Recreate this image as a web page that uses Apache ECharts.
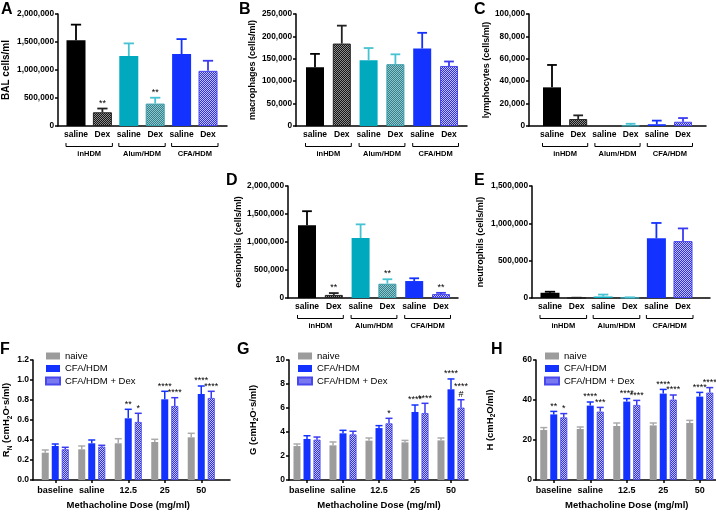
<!DOCTYPE html>
<html><head><meta charset="utf-8">
<script src="https://cdn.jsdelivr.net/npm/echarts@6/dist/echarts.min.js"></script>
<style>html,body{margin:0;padding:0;background:#fff}#c{width:716px;height:513px}</style>
</head><body><div id="c"></div>
<script>
// ---------- DATA ----------
const groupCats = ['saline', 'Dex', 'saline', 'Dex', 'saline', 'Dex'];
const groupNames = ['inHDM', 'Alum/HDM', 'CFA/HDM'];

const A_values = [1530000, 245000, 1250000, 400000, 1285000, 985000];
const A_errTop = [1810000, 312000, 1475000, 505000, 1552000, 1165000];
const A_stars  = ['', '**', '', '**', '', ''];

const B_values = [131000, 184000, 147000, 138000, 173000, 134000];
const B_errTop = [161000, 224000, 174000, 160000, 208000, 144000];
const B_stars  = ['', '', '', '', '', ''];

const C_values = [34500, 6200, 0, 400, 1600, 3800];
const C_errTop = [54500, 9500, 0, 2000, 4800, 7100];
const C_stars  = ['', '', '', '', '', ''];

const D_values = [1300000, 55000, 1070000, 255000, 303000, 70000];
const D_errTop = [1550000, 88000, 1315000, 335000, 352000, 92000];
const D_stars  = ['', '**', '', '**', '', '**'];

const E_values = [70000, 2000, 20000, 4000, 800000, 762000];
const E_errTop = [84000, 4000, 46000, 9000, 1005000, 932000];
const E_stars  = ['', '', '', '', '', ''];

const doseCats = ['baseline', 'saline', '12.5', '25', '50'];
const seriesNames = ['naive', 'CFA/HDM', 'CFA/HDM + Dex'];

const F_naive = [0.273, 0.307, 0.367, 0.38, 0.427];
const F_naiveErr = [0.30, 0.34, 0.413, 0.407, 0.467];
const F_cfa = [0.34, 0.367, 0.617, 0.807, 0.86];
const F_cfaErr = [0.36, 0.40, 0.707, 0.887, 0.94];
const F_dex = [0.307, 0.333, 0.58, 0.74, 0.82];
const F_dexErr = [0.327, 0.347, 0.667, 0.823, 0.887];
const F_cfaStars = ['', '', '**', '****', '****'];
const F_dexStars = ['', '', '*', '****', '****'];

const G_naive = [2.83, 2.89, 3.28, 3.14, 3.3];
const G_naiveErr = [3.0, 3.17, 3.5, 3.3, 3.5];
const G_cfa = [3.42, 3.89, 4.33, 5.67, 7.56];
const G_cfaErr = [3.69, 4.14, 4.53, 6.25, 8.42];
const G_dex = [3.36, 3.8, 4.72, 5.58, 6.03];
const G_dexErr = [3.58, 4.06, 5.14, 6.39, 6.69];
const G_cfaStars = ['', '', '', '****', '****'];
const G_dexStars = ['', '', '*', '****', '****\n#'];

const H_naive = [25, 25.5, 27, 27.3, 28.5];
const H_naiveErr = [26.2, 26.5, 28.5, 28.5, 29.8];
const H_cfa = [32.8, 37.2, 39.2, 43.2, 41.7];
const H_cfaErr = [34.3, 39, 40.7, 45.3, 43.8];
const H_dex = [31.3, 34.2, 37.5, 40.2, 43.7];
const H_dexErr = [33.2, 36.3, 39.8, 42.5, 46.2];
const H_cfaStars = ['**', '****', '****', '****', '****'];
const H_dexStars = ['*', '***', '****', '****', '****'];

// ---------- STYLE ----------
const FF = '"Liberation Sans", Arial, Helvetica, sans-serif';
function checker(c1, c2) {
  const cv = document.createElement('canvas'); cv.width = 2; cv.height = 2;
  const g = cv.getContext('2d');
  g.fillStyle = c1; g.fillRect(0, 0, 2, 2);
  g.fillStyle = c2; g.fillRect(0, 0, 1, 1); g.fillRect(1, 1, 1, 1);
  return { image: cv, repeat: 'repeat' };
}
const BLUE = '#1432ff', TEAL = '#00a9bd', TEAL_L = '#47c2d2', GRAY = '#9c9c9c';
const bluePat = checker('#2f2fe6', '#c2c2fa');
const barFill = ['#000', checker('#161616', '#8c8c8c'), TEAL, checker('#2a8792', '#98c2c7'), BLUE, bluePat];
const barBorder = ['#000', '#222', TEAL, '#3aa0ad', BLUE, '#4848ee'];
const errColor = ['#000', '#222', TEAL_L, TEAL_L, BLUE, '#3a3af0'];

const barPanels = [
  {letter: 'A', vals: A_values, errs: A_errTop, stars: A_stars, max: 2000000, interval: 500000, yName: 'BAL cells/ml', nameSize: 10, nameGap: 47, outer: [58, 14, 169, 112], inner: [62.8, 158.4], barW: 19, lp: [1, 2]},
  {letter: 'B', vals: B_values, errs: B_errTop, stars: B_stars, max: 250000, interval: 50000, yName: 'macrophages (cells/ml)', nameSize: 9, nameGap: 39, outer: [296, 14, 171, 112], inner: [301.6, 160.8], barW: 18, lp: [239, 2]},
  {letter: 'C', vals: C_values, errs: C_errTop, stars: C_stars, max: 100000, interval: 20000, yName: 'lymphocytes (cells/ml)', nameSize: 9, nameGap: 36, outer: [529, 14, 177, 112], inner: [538.9, 157.2], barW: 18, lp: [474, 2]},
  {letter: 'D', vals: D_values, errs: D_errTop, stars: D_stars, max: 2000000, interval: 500000, yName: 'eosinophils (cells/ml)', nameSize: 9, nameGap: 45, outer: [288, 186, 170, 112], inner: [293.6, 160.8], barW: 18, lp: [226, 173]},
  {letter: 'E', vals: E_values, errs: E_errTop, stars: E_stars, max: 1500000, interval: 500000, yName: 'neutrophils (cells/ml)', nameSize: 9, nameGap: 47, outer: [532, 186, 178, 112], inner: [536.7, 159.6], barW: 19, lp: [474, 173]}
];
const dosePanels = [
  {letter: 'F', sets: [[F_naive, F_naiveErr, []], [F_cfa, F_cfaErr, F_cfaStars], [F_dex, F_dexErr, F_dexStars]], max: 1.2, interval: 0.2, dec: 1,
   yName: '{a|R}{s|N}{a| (cmH}{s|2}{a|O·s/ml)}', nameGap: 20, outer: [33, 360, 197, 120], inner: [37, 182.5], lp: [0, 342], legend: [45, 351]},
  {letter: 'G', sets: [[G_naive, G_naiveErr, []], [G_cfa, G_cfaErr, G_cfaStars], [G_dex, G_dexErr, G_dexStars]], max: 10, interval: 2, dec: 0,
   yName: '{a|G (cmH}{s|2}{a|O·s/ml)}', nameGap: 31, outer: [289, 360, 179, 120], inner: [289, 180], lp: [237, 342], legend: [297, 351]},
  {letter: 'H', sets: [[H_naive, H_naiveErr, []], [H_cfa, H_cfaErr, H_cfaStars], [H_dex, H_dexErr, H_dexStars]], max: 60, interval: 20, dec: 0,
   yName: '{a|H (cmH}{s|2}{a|O/ml)}', nameGap: 41, outer: [536, 360, 180, 120], inner: [535.5, 182.5], lp: [491, 342], legend: [544, 351]}
];
const doseFill = [GRAY, BLUE, bluePat];
const doseBorder = [GRAY, BLUE, '#4848ee'];
const doseErr = ['#aaaaaa', BLUE, '#3a3af0'];
const doseOffset = [-10, 0, 10];

// ---------- BUILD ----------
const grid = [], xAxis = [], yAxis = [], series = [], legend = [], graphic = [];
const axisLine = {show: true, lineStyle: {color: '#000', width: 1.5}};

function errSeries(xi, vals, errs, stars, colors, offset, capHalf, lw) {
  return {
    type: 'custom', xAxisIndex: xi, yAxisIndex: xi, clip: false, z: 4, silent: true,
    data: vals.map((v, j) => [j, v, errs[j]]),
    renderItem: function (params, api) {
      const i = params.dataIndex;
      const v = api.value(1), e = api.value(2);
      const p0 = api.coord([api.value(0), v]);
      const p1 = api.coord([api.value(0), e]);
      const x = p0[0] + offset;
      const col = Array.isArray(colors) ? colors[i] : colors;
      const ch = [];
      if (e > v) {
        ch.push({type: 'line', shape: {x1: x, y1: p0[1], x2: x, y2: p1[1]}, style: {stroke: col, lineWidth: lw}});
        ch.push({type: 'line', shape: {x1: x - capHalf, y1: p1[1], x2: x + capHalf, y2: p1[1]}, style: {stroke: col, lineWidth: lw}});
      }
      const s = stars[i];
      if (s) {
        ch.push({type: 'text', style: {text: s, x: x, y: p1[1] - 1.5, align: 'center', verticalAlign: 'bottom',
          font: '9px ' + FF, fill: '#000', lineHeight: 7.5}});
      }
      return {type: 'group', children: ch};
    }
  };
}

barPanels.forEach((p, k) => {
  const go = grid.length, gi = go + 1;
  grid.push({left: p.outer[0], top: p.outer[1], width: p.outer[2], height: p.outer[3], outerBoundsMode: 'none'});
  grid.push({left: p.inner[0], top: p.outer[1], width: p.inner[1], height: p.outer[3], outerBoundsMode: 'none'});
  xAxis.push({gridIndex: go, type: 'value', min: 0, max: 1, axisLine: axisLine, axisTick: {show: false}, axisLabel: {show: false}, splitLine: {show: false}});
  xAxis.push({gridIndex: gi, type: 'category', data: groupCats, axisLine: {show: false}, axisTick: {show: false},
    axisLabel: {interval: 0, margin: 4, fontSize: 8.5, fontWeight: 'bold', color: '#000', fontFamily: FF}});
  yAxis.push({gridIndex: go, type: 'value', min: 0, max: p.max, interval: p.interval, axisLine: axisLine,
    axisTick: {show: true, length: 3, lineStyle: {color: '#000', width: 1.5}}, splitLine: {show: false},
    axisLabel: {margin: 4, fontSize: 8.3, fontWeight: 'bold', color: '#000', fontFamily: FF},
    name: p.yName, nameLocation: 'middle', nameRotate: 90, nameGap: p.nameGap,
    nameTextStyle: {fontSize: p.nameSize, fontWeight: 'bold', color: '#000', fontFamily: FF}});
  yAxis.push({gridIndex: gi, type: 'value', min: 0, max: p.max, show: false});
  series.push({type: 'bar', xAxisIndex: gi, yAxisIndex: gi, barWidth: p.barW, z: 2, silent: true,
    data: p.vals.map((v, j) => ({value: v, itemStyle: {color: barFill[j], borderColor: barBorder[j], borderWidth: j % 2 ? 1 : 0}}))});
  series.push(errSeries(gi, p.vals, p.errs, p.stars, errColor, 0, p.barW * 0.27, 1.8));
  // group brackets
  const bw = p.barW;
  series.push({type: 'custom', xAxisIndex: gi, yAxisIndex: gi, clip: false, silent: true,
    data: [[0, 1], [2, 3], [4, 5]],
    renderItem: function (params, api) {
      const a = api.coord([api.value(0), 0]), b = api.coord([api.value(1), 0]);
      const x1 = a[0] - bw / 2 - 0.5, x2 = b[0] + bw / 2 + 0.5, y = a[1] + 20.5;
      return {type: 'group', children: [
        {type: 'polyline', shape: {points: [[x1, y - 3.5], [x1, y], [x2, y], [x2, y - 3.5]]}, style: {stroke: '#000', lineWidth: 1, fill: null}},
        {type: 'text', style: {text: groupNames[params.dataIndex], x: (x1 + x2) / 2, y: y + 7, align: 'center', verticalAlign: 'middle',
          font: 'bold 7.5px ' + FF, fill: '#000'}}
      ]};
    }
  });
  graphic.push({type: 'text', left: p.lp[0], top: p.lp[1], style: {text: p.letter, font: 'bold 16px ' + FF, fill: '#000'}});
});

dosePanels.forEach((p) => {
  const go = grid.length, gi = go + 1;
  grid.push({left: p.outer[0], top: p.outer[1], width: p.outer[2], height: p.outer[3], outerBoundsMode: 'none'});
  grid.push({left: p.inner[0], top: p.outer[1], width: p.inner[1], height: p.outer[3], outerBoundsMode: 'none'});
  xAxis.push({gridIndex: go, type: 'value', min: 0, max: 1, axisLine: axisLine, axisTick: {show: false}, axisLabel: {show: false}, splitLine: {show: false}});
  xAxis.push({gridIndex: gi, type: 'category', data: doseCats, axisLine: {show: false},
    axisTick: {show: true, alignWithLabel: true, length: 3, lineStyle: {color: '#000', width: 1.5}},
    axisLabel: {interval: 0, margin: 6, fontSize: 9, fontWeight: 'bold', color: '#000', fontFamily: FF},
    name: 'Methacholine Dose (mg/ml)', nameLocation: 'middle', nameGap: 20,
    nameTextStyle: {fontSize: 9.5, fontWeight: 'bold', color: '#000', fontFamily: FF}});
  yAxis.push({gridIndex: go, type: 'value', min: 0, max: p.max, interval: p.interval, axisLine: axisLine,
    axisTick: {show: true, length: 3, lineStyle: {color: '#000', width: 1.5}}, splitLine: {show: false},
    axisLabel: {margin: 4, fontSize: 8.5, fontWeight: 'bold', color: '#000', fontFamily: FF, formatter: (v) => v.toFixed(p.dec)},
    name: p.yName, nameLocation: 'middle', nameRotate: 90, nameGap: p.nameGap,
    nameTextStyle: {fontFamily: FF, color: '#000', rich: {
      a: {fontSize: 9.5, fontWeight: 'bold', fontFamily: FF, color: '#000', lineHeight: 13, verticalAlign: 'bottom'},
      s: {fontSize: 6.5, fontWeight: 'bold', fontFamily: FF, color: '#000', lineHeight: 13, verticalAlign: 'bottom', padding: [0, 0, -2, 0]}}}});
  yAxis.push({gridIndex: gi, type: 'value', min: 0, max: p.max, show: false});
  p.sets.forEach((s, k) => {
    series.push({type: 'bar', name: seriesNames[k], xAxisIndex: gi, yAxisIndex: gi, barWidth: 7, barGap: '43%', z: 2, silent: true,
      itemStyle: {color: doseFill[k], borderColor: doseBorder[k], borderWidth: k === 2 ? 0.8 : 0},
      data: s[0]});
  });
  p.sets.forEach((s, k) => {
    series.push(errSeries(gi, s[0], s[1], s[2], doseErr[k], doseOffset[k], 3.5, 1.5));
  });
  legend.push({data: seriesNames, orient: 'vertical', left: p.legend[0], top: p.legend[1], itemWidth: 14, itemHeight: 7, itemGap: 2.5,
    icon: 'rect', selectedMode: false, padding: 0, textStyle: {fontSize: 9.5, color: '#000', fontFamily: FF}});
  graphic.push({type: 'text', left: p.lp[0], top: p.lp[1], style: {text: p.letter, font: 'bold 16px ' + FF, fill: '#000'}});
});

const chart = echarts.init(document.getElementById('c'), null, {renderer: 'canvas'});
chart.setOption({animation: false, backgroundColor: '#fff', textStyle: {fontFamily: FF},
  grid, xAxis, yAxis, series, legend, graphic});
</script>
</body></html>
